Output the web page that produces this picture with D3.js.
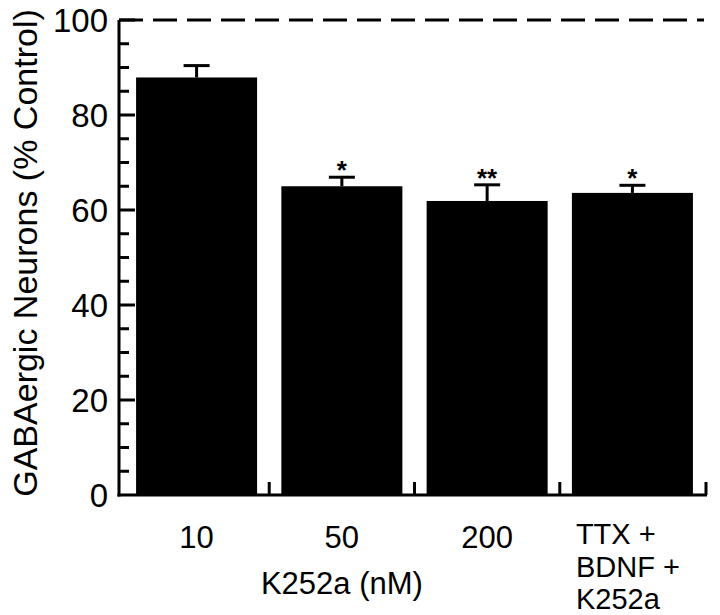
<!DOCTYPE html>
<html><head><meta charset="utf-8">
<script src="https://cdn.jsdelivr.net/npm/d3@7/dist/d3.min.js"></script>
<style>body{margin:0;background:#fff}svg{display:block}text{font-family:"Liberation Sans",Arial,sans-serif;fill:#000}</style>
</head><body>
<script>
const categories = ["10", "50", "200", "TTX"];
const values = [87.9, 65.0, 61.9, 63.6];
const errors = [2.5, 1.9, 3.4, 1.6];
const stars = ["", "*", "**", "*"];
const yTicks = [0, 20, 40, 60, 80, 100];
const catLabels = [["10"], ["50"], ["200"], ["TTX +", "BDNF +", "K252a"]];
const referenceValue = 100;

const W = 720, H = 615;
const svg = d3.select("body").append("svg").attr("width", W).attr("height", H);
const y = d3.scaleLinear().domain([0, 100]).range([495, 20]);
const x = d3.scaleBand().domain(categories).range([123, 706]).paddingInner(0.167).paddingOuter(0.09);
const axX = 119;

// bars
svg.selectAll("rect.bar").data(values).join("rect")
  .attr("x", (d, i) => x(categories[i])).attr("width", x.bandwidth())
  .attr("y", d => y(d)).attr("height", d => y(0) - y(d)).attr("fill", "#000");

// error bars
const eb = svg.append("g").attr("stroke", "#000").attr("stroke-width", 3);
values.forEach((v, i) => {
  const cx = x(categories[i]) + x.bandwidth() / 2;
  eb.append("line").attr("x1", cx).attr("x2", cx).attr("y1", y(v)).attr("y2", y(v + errors[i]));
  eb.append("line").attr("x1", cx - 13).attr("x2", cx + 13).attr("y1", y(v + errors[i])).attr("y2", y(v + errors[i]));
});

// stars
svg.selectAll("text.star").data(stars).join("text")
  .attr("x", (d, i) => x(categories[i]) + x.bandwidth() / 2)
  .attr("y", (d, i) => y(values[i] + errors[i]) + 2)
  .attr("text-anchor", "middle").attr("font-size", 26).attr("font-weight", "bold").text(d => d);

// reference dashed line
svg.append("line").attr("x1", axX).attr("x2", 704).attr("y1", y(referenceValue)).attr("y2", y(referenceValue))
  .attr("stroke", "#000").attr("stroke-width", 3).attr("stroke-dasharray", "24,10");

// y axis
const ga = svg.append("g").attr("transform", `translate(${axX},0)`);
ga.append("line").attr("x1", 0).attr("x2", 0).attr("y1", y(0) + 1.5).attr("y2", y(100)).attr("stroke", "#000").attr("stroke-width", 3);
ga.selectAll("line.tk").data(d3.range(5, 101, 5)).join("line")
  .attr("x1", 0).attr("x2", d => d % 20 === 0 ? 16 : 10)
  .attr("y1", d => y(d)).attr("y2", d => y(d)).attr("stroke", "#000").attr("stroke-width", 3);
svg.selectAll("text.yl").data(yTicks).join("text")
  .attr("x", 108).attr("y", d => y(d) + 12).attr("text-anchor", "end").attr("font-size", 33).text(d => d);

// x axis
svg.append("line").attr("x1", axX - 1.5).attr("x2", 707).attr("y1", y(0)).attr("y2", y(0)).attr("stroke", "#000").attr("stroke-width", 3);
const step = x.step();
const xt = categories.map((c, i) => x(c) + x.bandwidth() + (step - x.bandwidth()) / 2);
xt[3] = 706;
svg.selectAll("line.xt").data(xt).join("line")
  .attr("x1", d => d).attr("x2", d => d).attr("y1", y(0)).attr("y2", y(0) - 13)
  .attr("stroke", "#000").attr("stroke-width", 3);

// x labels
catLabels.forEach((lines, i) => {
  const cx = x(categories[i]) + x.bandwidth() / 2;
  const lx = i === 3 ? x(categories[i]) + 4 : cx;
  lines.forEach((l, j) => svg.append("text")
    .attr("font-size", lines.length > 1 ? 29 : 31)
    .attr("text-anchor", i === 3 ? "start" : "middle")
    .attr("x", lx).attr("y", (lines.length > 1 ? 544 : 548) + j * 32.5).text(l));
});
svg.append("text").attr("x", x("50") + x.bandwidth() / 2).attr("y", 594).attr("text-anchor", "middle").attr("font-size", 31).text("K252a (nM)");

// y title
svg.append("text").attr("transform", "translate(37,253) rotate(-90)").attr("text-anchor", "middle")
  .attr("font-size", 34).text("GABAergic Neurons (% Control)");
</script>
</body></html>
